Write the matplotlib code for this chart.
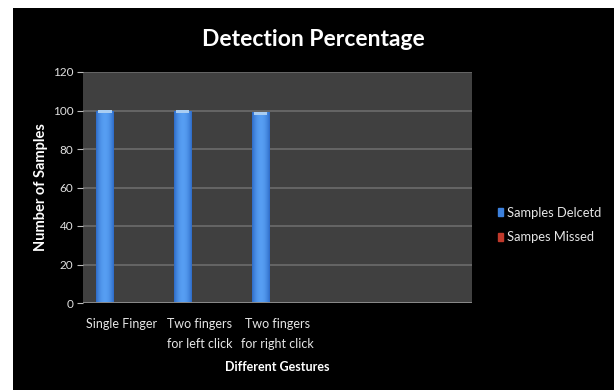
import numpy as np
import matplotlib
matplotlib.use("Agg")
import matplotlib.pyplot as plt
from matplotlib.patches import Rectangle

plt.rcParams['font.family'] = ['Lato', 'DejaVu Sans']

# chart data
gestures = ["Single Finger", "Two fingers\nfor left click", "Two fingers\nfor right click", "", ""]
detected = [100, 100, 99, 0, 0]
missed = [0, 0, 0, 0, 0]
series_names = ["Samples Delcetd", "Sampes Missed"]
y_ticks = [0, 20, 40, 60, 80, 100, 120]

W, H = 614, 390
fig = plt.figure(figsize=(W / 100, H / 100), dpi=100, facecolor="white")

# black chart area with a white strip on the left and top
fig.patches.append(Rectangle((13 / W, 0), 1, 1 - 8 / H, transform=fig.transFigure,
                             facecolor="black", edgecolor="none", zorder=-10))

ax = fig.add_axes([83 / W, (H - 303) / H, 389 / W, 231 / H])
ax.set_facecolor("#404040")
for s in ax.spines.values():
    s.set_visible(False)

x = np.arange(len(gestures))
bw = 0.22

# horizontal shading for the blue columns
grad = np.linspace(0, 1, 64)
shade = 1 - (2 * grad - 1) ** 2
blue_dark = np.array([0.18, 0.42, 0.78])
blue_light = np.array([0.34, 0.62, 0.95])
img = blue_dark[None, :] + (blue_light - blue_dark)[None, :] * shade[:, None]
img = img[None, :, :]

bars = ax.bar(x - bw, detected, width=bw, color="#3c80dc", edgecolor="none",
              label=series_names[0], zorder=3)
for b in bars:
    if b.get_height() <= 0:
        continue
    x0, h = b.get_x(), b.get_height()
    im = ax.imshow(img, extent=(x0, x0 + bw, 0, h), aspect="auto", zorder=3.5,
                   interpolation="bilinear")
    im.set_clip_path(b)
    # light cap at the top of each column
    ax.add_patch(Rectangle((x0 + bw * 0.1, h - 1.5), bw * 0.8, 1.5,
                           facecolor="#a9cdf2", edgecolor="none", zorder=4))
ax.bar(x, missed, width=bw, color="#c0392b", edgecolor="none",
       label=series_names[1], zorder=3)

ax.set_xlim(-0.5, len(gestures) - 0.5)
ax.set_ylim(0, 120)
ax.set_yticks(y_ticks)
ax.set_xticks(x)
ax.set_xticklabels(gestures, color="#e6e6e6", fontsize=9, linespacing=1.75)
ax.tick_params(axis="y", colors="#bdbdbd", labelsize=8.5, length=4, width=0.8,
               pad=3)
ax.tick_params(axis="y", labelcolor="#e0e0e0")
ax.tick_params(axis="x", length=0, pad=11)
ax.yaxis.grid(True, color="#6c6c6c", linewidth=1.2, zorder=1)
ax.set_axisbelow(True)
ax.axhline(0, color="#8a8a8a", linewidth=1.4, zorder=5)

ax.set_ylabel("Number of Samples", color="white", fontsize=10.5,
              fontweight="bold", labelpad=3)
ax.set_xlabel("Different Gestures", color="white", fontsize=9,
              fontweight="bold", labelpad=8)

fig.text(313 / W, 1 - 40 / H, "Detection Percentage", color="white", fontsize=16.5,
         fontweight="bold", ha="center", va="center")

leg = fig.legend(handles=[Rectangle((0, 0), 1, 1, color="#3c80dc"),
                          Rectangle((0, 0), 1, 1, color="#c0392b")],
                 labels=series_names, loc="center left",
                 bbox_to_anchor=(486 / W, 1 - 225 / H), frameon=False,
                 fontsize=9.3, labelcolor="#e6e6e6", handlelength=0.45,
                 handleheight=0.6, handletextpad=0.3, labelspacing=1.0)

fig.savefig("out.png", dpi=100, facecolor="white")
